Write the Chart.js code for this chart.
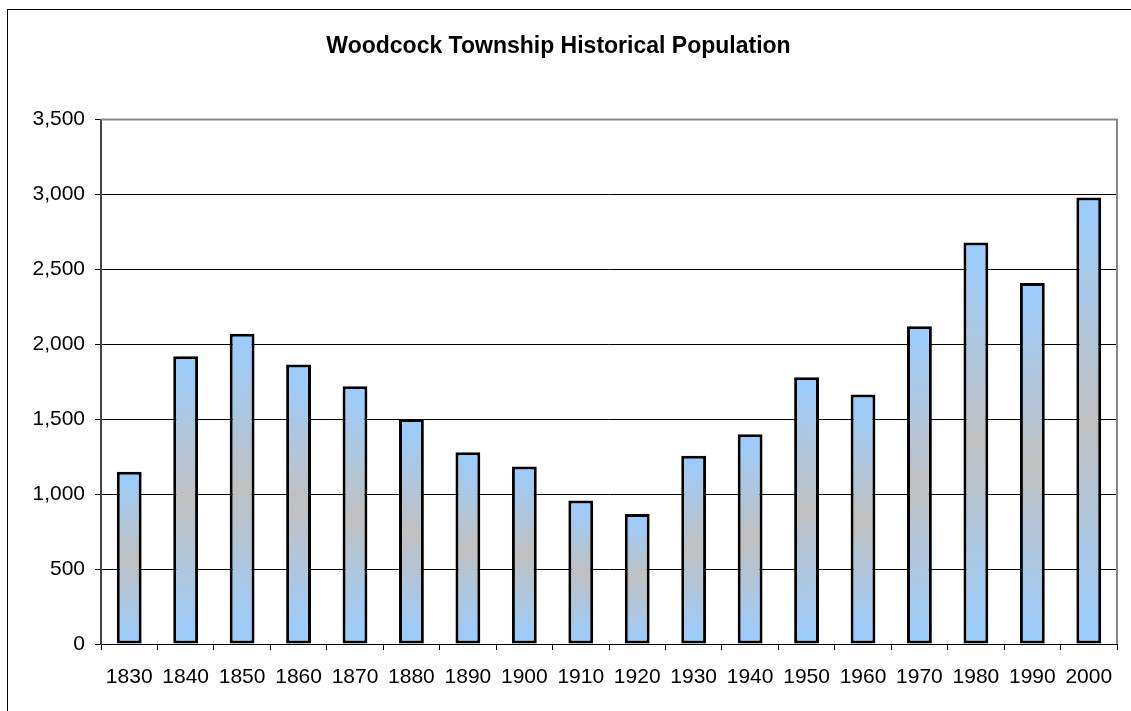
<!DOCTYPE html>
<html>
<head>
<meta charset="utf-8">
<title>Woodcock Township Historical Population</title>
<script src="https://cdn.jsdelivr.net/npm/chart.js@4"></script>
<style>
  html, body { margin: 0; padding: 0; background: #fff; }
  #wrap { width: 1131px; height: 711px; }
</style>
</head>
<body>
<div id="wrap"><canvas id="chart" width="1131" height="711"></canvas></div>
<script>
const years = ["1830", "1840", "1850", "1860", "1870", "1880", "1890", "1900", "1910",
  "1920", "1930", "1940", "1950", "1960", "1970", "1980", "1990", "2000"];
const population = [1150, 1920, 2070, 1865, 1720, 1500, 1280, 1185, 957,
  867, 1257, 1400, 1780, 1665, 2120, 2680, 2410, 2980];
const yTicks = [0, 500, 1000, 1500, 2000, 2500, 3000, 3500];

const FONT = "'Liberation Sans', Arial, sans-serif";

// gradient per bar: blue at top and bottom, grey in the middle
const barFill = (ctx) => {
  const chart = ctx.chart;
  if (!chart.chartArea || ctx.type !== "data") return "#99CCFF";
  const y = chart.scales.y;
  const top = y.getPixelForValue(ctx.raw);
  const base = y.getPixelForValue(0);
  const g = chart.ctx.createLinearGradient(0, top, 0, base);
  g.addColorStop(0, "#99CCFF");
  g.addColorStop(0.5, "#C0C0C0");
  g.addColorStop(1, "#99CCFF");
  return g;
};

const frame = {
  id: "frame",
  beforeDraw(chart) {
    const c = chart.ctx;
    c.save();
    c.strokeStyle = "#000";
    c.lineWidth = 1;
    c.strokeRect(7.5, 9.5, 2000, 2000);
    c.restore();
  },
  afterDatasetsDraw(chart) {
    const { left, right, top, bottom } = chart.chartArea;
    const c = chart.ctx;
    c.save();
    c.strokeStyle = "#888";
    c.lineWidth = 2;
    c.beginPath();
    c.moveTo(left, top);
    c.lineTo(right, top);
    c.lineTo(right, bottom);
    c.stroke();
    c.restore();
  },
};

new Chart(document.getElementById("chart"), {
  type: "bar",
  data: {
    labels: years,
    datasets: [{
      data: population,
      backgroundColor: barFill,
      borderColor: "#000",
      borderWidth: 3,
      borderSkipped: false,
      barPercentage: 0.44,
      categoryPercentage: 1,
    }],
  },
  options: {
    responsive: false,
    animation: false,
    layout: { padding: { left: 0, right: 14, top: 0, bottom: 0 } },
    plugins: {
      legend: { display: false },
      tooltip: { enabled: false },
      title: {
        display: true,
        text: "Woodcock Township Historical Population",
        color: "#000",
        font: { family: FONT, size: 23, weight: "bold" },
        padding: { top: 33, bottom: 59 },
      },
    },
    scales: {
      x: {
        grid: {
          offset: true,
          drawOnChartArea: false,
          drawTicks: true,
          tickLength: 6,
          color: "#000",
        },
        border: { color: "#000", width: 1 },
        ticks: {
          color: "#000",
          font: { family: FONT, size: 21 },
          padding: 15,
          maxRotation: 0,
          autoSkip: false,
        },
        afterFit(axis) { axis.height = 67; },
      },
      y: {
        min: 0,
        max: 3500,
        afterBuildTicks(axis) { axis.ticks = yTicks.map((v) => ({ value: v })); },
        grid: {
          color: (ctx) => (ctx.tick && ctx.tick.value === 3500 ? "rgba(0,0,0,0)" : "#000"),
          lineWidth: 1,
          tickLength: 6,
          tickColor: "#000",
        },
        border: { color: "#444", width: 2 },
        ticks: {
          color: "#000",
          font: { family: FONT, size: 21 },
          padding: 10,
          callback: (v) => v.toLocaleString("en-US"),
        },
        afterFit(axis) { axis.width = 101; },
      },
    },
  },
  plugins: [frame],
});
</script>
</body>
</html>
